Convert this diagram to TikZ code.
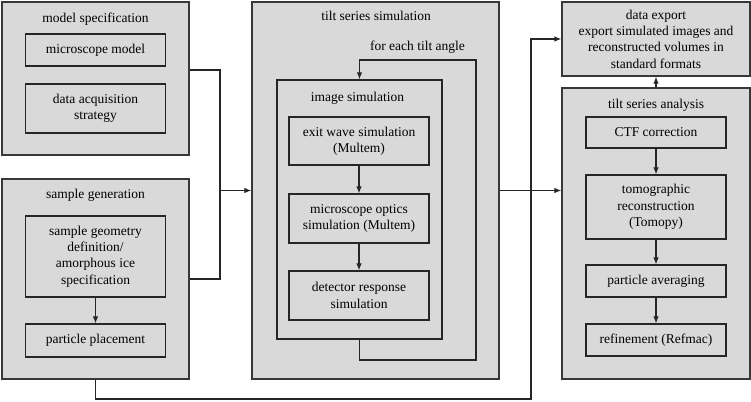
\documentclass[tikz,border=0pt]{standalone}
\usepackage{fontspec}
\setmainfont{Liberation Serif}
\usepackage{tikz}
\usetikzlibrary{arrows.meta}
\definecolor{boxgray}{gray}{0.85}
\definecolor{edgegray}{gray}{0.22}

\begin{document}
\begin{tikzpicture}[x=1pt,y=-1pt,>={Latex[length=7pt,width=5.5pt]},
  font=\rmfamily\fontsize{13.5}{16.3}\selectfont,
  outerbox/.style={draw=edgegray, fill=boxgray, line width=1.3pt, inner sep=0pt},
  innerbox/.style={draw=black!85, fill=boxgray, line width=1.2pt, align=center, inner sep=0pt, minimum width=140pt},
  title/.style={inner sep=0pt, anchor=base},
  flow/.style={->, draw=black!85, line width=1.1pt}]

\useasboundingbox (0,0) rectangle (751,401);

% left column
\node[outerbox, minimum width=187pt, minimum height=153pt] (spec) at (95.5,78.5) {};
\node[title] (spectitle) at (95.5,23) {model specification};
\node[innerbox, minimum height=32pt] (micro) at (95.5,50) {microscope model};
\node[innerbox, minimum height=49pt] (acq) at (95.5,108.5) {data acquisition\\strategy};

\node[outerbox, minimum width=187pt, minimum height=200pt] (sample) at (95.5,279) {};
\node[title] (sampletitle) at (95.5,198) {sample generation};
\node[innerbox, minimum height=81pt] (geom) at (95.5,256.5) {sample geometry\\definition/\\amorphous ice\\specification};
\node[innerbox, minimum height=33pt] (place) at (95.5,340.5) {particle placement};

% middle column
\node[outerbox, minimum width=247pt, minimum height=377pt] (tiltsim) at (375.5,190.5) {};
\node[title] (tiltsimtitle) at (376,21) {tilt series simulation};
\node[title] (loopnote) at (417.5,51) {for each tilt angle};
\node[outerbox, draw=black!85, minimum width=165pt, minimum height=259pt] (imsim) at (359.5,209.5) {};
\node[title] (imsimtitle) at (357.5,102) {image simulation};
\node[innerbox, minimum height=48pt] (exit) at (359,141) {exit wave simulation\\(Multem)};
\node[innerbox, minimum height=49pt] (optics) at (359,218.5) {microscope optics\\simulation (Multem)};
\node[innerbox, minimum height=49pt] (detector) at (359,295.5) {detector response\\simulation};

% right column
\node[outerbox, minimum width=188pt, minimum height=74pt, align=center] (export) at (656,39)
  {data export\\export simulated images and\\reconstructed volumes in\\standard formats};
\node[outerbox, minimum width=188pt, minimum height=291pt] (analysis) at (656,233.5) {};
\node[title] (analysistitle) at (656,109) {tilt series analysis};
\node[innerbox, minimum height=31pt] (ctf) at (656,132.5) {CTF correction};
\node[innerbox, minimum height=64pt] (tomo) at (656,207) {tomographic\\reconstruction\\(Tomopy)};
\node[innerbox, minimum height=32pt] (avg) at (656,281) {particle averaging};
\node[innerbox, minimum height=32pt] (refine) at (656,340) {refinement (Refmac)};

% connectors
\coordinate (join) at (220,190.5);
\coordinate (loopa) at (476,360);
\coordinate (loopb) at (476,60);
\coordinate (lowa) at (531,399);

\draw[flow, -] ([yshift=8.5pt]spec.east) -| (join);
\draw[flow, -] (sample.east) -| (join);
\draw[flow] (join) -- (tiltsim.west);
\draw[flow] (tiltsim.east) -- (analysis.west |- tiltsim.east);
\draw[flow] (sample.south) |- (lowa) |- (export.west);
\draw[flow] (analysis.north) -- (export.south);

\draw[flow] (geom) -- (place);
\draw[flow] (exit) -- (optics);
\draw[flow] (optics) -- (detector);
\draw[flow] (imsim.south) |- (loopa) -- (loopb) -| (imsim.north);

\draw[flow] (ctf) -- (tomo);
\draw[flow] (tomo) -- (avg);
\draw[flow] (avg) -- (refine);

\end{tikzpicture}
\end{document}
